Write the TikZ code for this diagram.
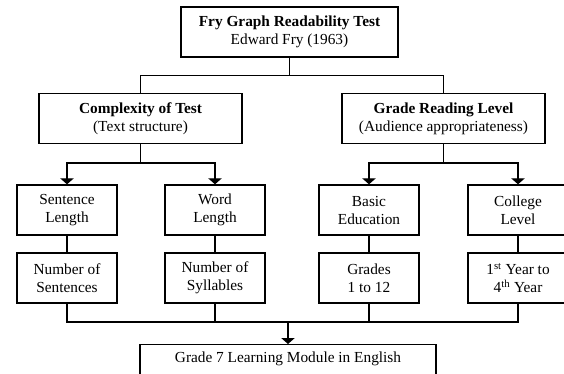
\documentclass[tikz,border=0pt]{standalone}
\usepackage{fontspec}
\setmainfont{Liberation Serif}
\usetikzlibrary{arrows.meta}

\begin{document}
\begin{tikzpicture}[x=0.75pt, y=-0.75pt, line width=1pt,
    every node/.style={font=\fontsize{11.5}{13.5}\selectfont, align=center},
    box/.style={draw, minimum height=37.5pt, inner sep=2pt},
    wide/.style={box, minimum width=152.25pt},
    small/.style={box, minimum width=75pt},
    tip/.style={-{Triangle[width=10pt,length=4.5pt]}}]
      \useasboundingbox (0,0) rectangle (564,374);
      \clip (0,0) rectangle (564,374);
      % title
      \node[box, minimum width=162.75pt] (fry) at (289.5,32)
        {\textbf{Fry Graph Readability Test}\\Edward Fry (1963)};
      % second row
      \node[wide] (cot) at (140.5,118.5) {\textbf{Complexity of Test}\\(Text structure)};
      \node[wide] (grl) at (443.5,118.5) {\textbf{Grade Reading Level}\\(Audience appropriateness)};
      % third row
      \node[small] (sl) at (67,210) {Sentence\\Length};
      \node[small] (wl) at (215,210) {Word\\Length};
      \node[small] (be) at (369,210) {Basic\\Education};
      \node[small] (cl) at (518,210) {College\\Level};
      % fourth row
      \node[small] (nos) at (67,278) {Number of\\Sentences};
      \node[small] (nsy) at (215,278) {Number of\\Syllables};
      \node[small] (g12) at (369,278) {Grades\\1 to 12};
      \node[small] (yrs) at (518,278) {1\textsuperscript{st} Year to\\4\textsuperscript{th} Year};
      % module
      \node[draw, anchor=north, minimum width=222pt, inner ysep=0pt,
        text height=13.5pt, text depth=20pt] (gm) at (288,344)
        {Grade 7 Learning Module in English};
      % title to second row
      \draw (fry.south) -- ++(0,18) -| (cot.north);
      \draw (fry.south) -- ++(0,18) -| (grl.north);
      % second row to third row
      \draw[tip] (cot.south) -- ++(0,19) -| (sl.north);
      \draw[tip] (cot.south) -- ++(0,19) -| (wl.north);
      \draw[tip] (grl.south) -- ++(0,19) -| (be.north);
      \draw[tip] (grl.south) -- ++(0,19) -| (cl.north);
      % third row to fourth row
      \draw (sl) -- (nos);
      \draw (wl) -- (nsy);
      \draw (be) -- (g12);
      \draw (cl) -- (yrs);
      % merge into module
      \coordinate (merge) at (288,322);
      \draw (nos.south) -- (nos.south |- merge) -- (yrs.south |- merge) -- (yrs.south);
      \draw (nsy.south) -- (nsy.south |- merge);
      \draw (g12.south) -- (g12.south |- merge);
      \draw[tip] (merge) -- (gm.north);
\end{tikzpicture}
\end{document}
